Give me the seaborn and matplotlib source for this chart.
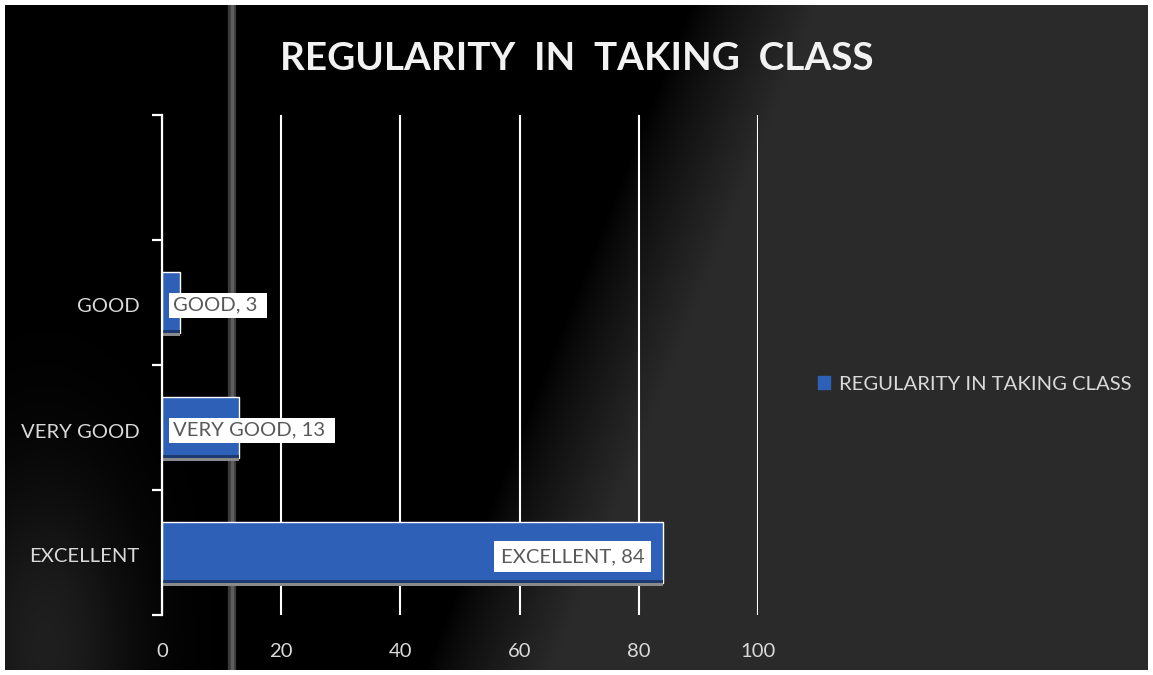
import numpy as np
import pandas as pd
import matplotlib
matplotlib.use("Agg")
import matplotlib.pyplot as plt
import matplotlib.patches as mpatches
import matplotlib.transforms as mtransforms
import seaborn as sns

# data
categories = ["GOOD", "VERY GOOD", "EXCELLENT"]
values = [3, 13, 84]
x_ticks = [0, 20, 40, 60, 80, 100]
series_name = "REGULARITY IN TAKING CLASS"
title = "REGULARITY  IN  TAKING  CLASS"

df = pd.DataFrame({"category": categories, "value": values})

sns.set_style("dark")
plt.rcParams["font.family"] = ["Lato", "DejaVu Sans"]

W, H = 1153, 675
fig = plt.figure(figsize=(W / 100, H / 100), dpi=100, facecolor="white")

# background picture (black left, grey right, soft edge)
bg = fig.add_axes([5 / W, 5 / H, 1 - 10 / W, 1 - 10 / H])
h, w = H - 10, W - 10
yy, xx = np.mgrid[0:h, 0:w]
edge = 690 - 0.4 * yy
t = np.clip((xx + 5 - edge) / 130, 0, 1)
level = 0.168 * t ** 0.8
level += 0.12 * np.exp(-(((xx - 40) / 90) ** 2 + ((yy - 640) / 170) ** 2))
level = np.clip(level, 0, 1)
bg.imshow(np.dstack([level] * 3), extent=(0, w, h, 0), aspect="auto")
bg.axvline(227, color="#3a3a3a", lw=6)
bg.axvline(227, color="#5e5e5e", lw=2.5)
bg.set_xlim(0, w)
bg.set_ylim(h, 0)
bg.axis("off")

# main chart
ax = fig.add_axes([162 / W, 1 - 615 / H, (758 - 162) / W, 500 / H])
ax.patch.set_alpha(0)

sns.barplot(data=df, x="value", y="category", order=categories,
            color="#2e60b8", saturation=1, width=0.49, ax=ax, zorder=3)

# dark bottom edge + shadow under each bar
unit = 1 / 125
for p in list(ax.patches):
    x0, y0 = p.get_x(), p.get_y()
    bw, bh = p.get_width(), p.get_height()
    ax.add_patch(mpatches.Rectangle((x0, y0 + bh - 3 * unit), bw, 3 * unit,
                                    color="#1c3970", zorder=4, lw=0))
    ax.add_patch(mpatches.Rectangle((x0, y0 + bh), bw, 2.5 * unit,
                                    color="#8a8a8a", zorder=4, lw=0))

ax.set_xlim(0, 100)
ax.set_ylim(len(categories) - 0.5, -1.5)
ax.set_xticks(x_ticks)
ax.set_xticklabels([str(v) for v in x_ticks])
ax.set_xlabel("")
ax.set_ylabel("")

ax.grid(axis="x", color="white", lw=1.5, zorder=1)
ax.grid(axis="y", visible=False)
for s in ["top", "right", "bottom"]:
    ax.spines[s].set_visible(False)
ax.spines["left"].set_color("white")
ax.spines["left"].set_linewidth(1.6)
ax.spines["left"].set_zorder(5)

ax.set_yticks(np.arange(-1.5, len(categories), 1.0), minor=True)
ax.tick_params(axis="y", which="minor", left=True, length=7, width=1.6,
               color="white", direction="out")
ax.tick_params(axis="y", which="major", length=0, pad=16, labelsize=14.6,
               labelcolor="#d9d9d9")
ax.tick_params(axis="x", length=0, pad=20, labelsize=14.6, labelcolor="#d9d9d9")

# nudge category labels down a little
shift = mtransforms.ScaledTranslation(0, -3 / 100, fig.dpi_scale_trans)
for lab in ax.get_yticklabels():
    lab.set_transform(lab.get_transform() + shift)

# data labels
for i, (cat, val) in enumerate(zip(categories, values)):
    txt = f"{cat}, {val}"
    if val > 50:
        ax.annotate(txt, (val, i), xytext=(-13, -3), textcoords="offset points",
                    ha="right", va="center", fontsize=14.6, color="#595959",
                    bbox=dict(facecolor="white", edgecolor="none", pad=5),
                    zorder=6)
    else:
        ax.annotate(txt + " ", (0, i), xytext=(8, -2), textcoords="offset points",
                    ha="left", va="center", fontsize=14.6, color="#595959",
                    bbox=dict(facecolor="white", edgecolor="none", pad=3),
                    zorder=6)

# legend
handle = mpatches.Patch(color="#2e60b8", label=series_name)
fig.legend(handles=[handle], loc="center left",
           bbox_to_anchor=(800 / W, 1 - 384 / H), frameon=False,
           handlelength=0.6, handleheight=0.6, handletextpad=0.4,
           fontsize=14.6, labelcolor="#d9d9d9")

fig.text(0.5, 1 - 59 / H, title, ha="center", va="center", fontsize=27.8,
         weight="bold", color="#f2f2f2")

fig.savefig("out.png", dpi=100, facecolor="white")
